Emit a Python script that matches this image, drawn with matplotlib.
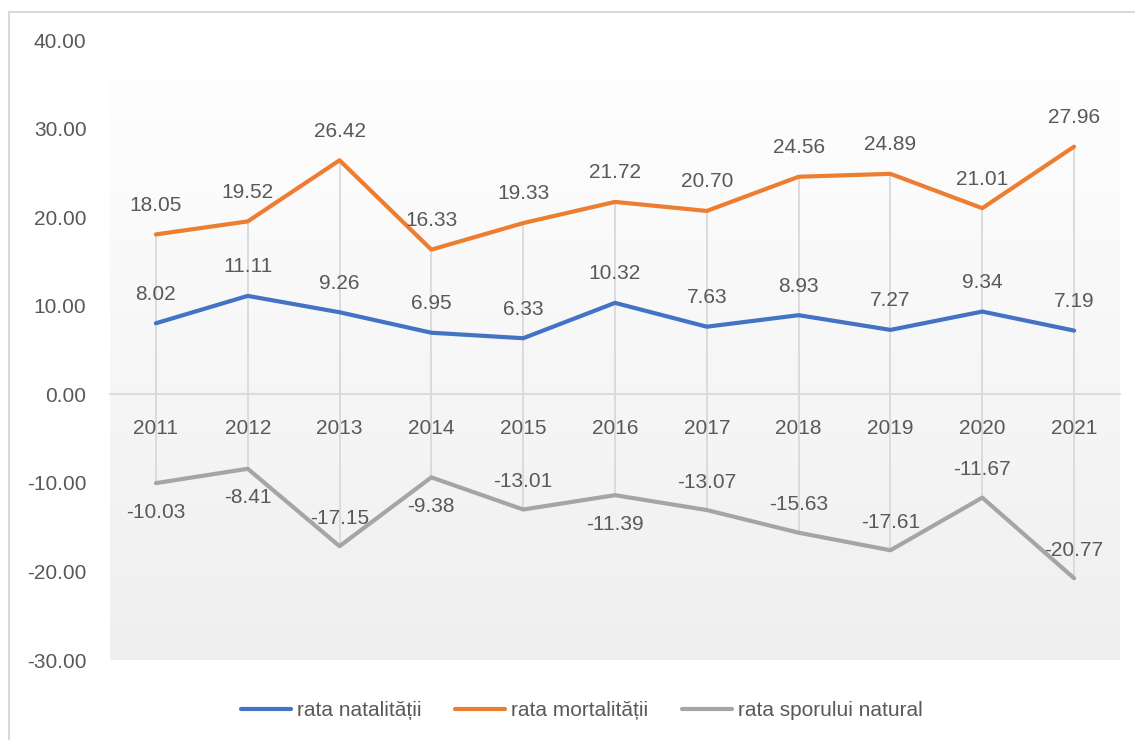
import matplotlib
matplotlib.use("Agg")
import matplotlib.pyplot as plt
import numpy as np
from matplotlib.colors import LinearSegmentedColormap
from matplotlib.lines import Line2D

years = ["2011", "2012", "2013", "2014", "2015", "2016", "2017", "2018", "2019", "2020", "2021"]
natalitate = [8.02, 11.11, 9.26, 6.95, 6.33, 10.32, 7.63, 8.93, 7.27, 9.34, 7.19]
mortalitate = [18.05, 19.52, 26.42, 16.33, 19.33, 21.72, 20.70, 24.56, 24.89, 21.01, 27.96]
spor = [-10.03, -8.41, -17.15, -9.38, -13.01, -11.39, -13.07, -15.63, -17.61, -11.67, -20.77]
series_names = ["rata natalității", "rata mortalității", "rata sporului natural"]
yticks = [-30, -20, -10, 0, 10, 20, 30, 40]
# label placement for grey series: 1 = above, -1 = below
spor_label_side = [-1, -1, 1, -1, 1, -1, 1, 1, 1, 1, 1]

plt.rcParams['font.family'] = ['Liberation Sans', 'DejaVu Sans']
txt_color = "#595959"
colors = ["#4472C4", "#ED7D31", "#A5A5A5"]

W, H = 1135, 740
fig = plt.figure(figsize=(W / 100, H / 100), dpi=100)
# outer chart border (top and left visible)
fig.add_artist(Line2D([9 / W, 9 / W], [0, 1 - 12 / H], color="#d9d9d9", lw=1.5, transform=fig.transFigure))
fig.add_artist(Line2D([9 / W, 1], [1 - 12 / H, 1 - 12 / H], color="#d9d9d9", lw=1.5, transform=fig.transFigure))

ax = fig.add_axes([110 / W, 80 / H, 1010 / W, 620 / H])
x = np.arange(len(years))
n = len(years)

# gradient background: white at top to light grey at bottom
cmap = LinearSegmentedColormap.from_list("bg", ["#ffffff", "#efefef"])
grad = np.linspace(1, 0, 256).reshape(-1, 1)
ax.imshow(grad, extent=[-0.5, n - 0.5, -30, 40], cmap=cmap, vmin=0, vmax=1,
          aspect="auto", zorder=0, origin="lower", interpolation="bilinear")
ax.set_xlim(-0.5, n - 0.5)
ax.set_ylim(-30, 40)

# high-low lines
data = np.array([natalitate, mortalitate, spor])
ax.vlines(x, data.min(axis=0), data.max(axis=0), color="#d9d9d9", lw=1.3, zorder=1)

for vals, c in zip([natalitate, mortalitate, spor], colors):
    ax.plot(x, vals, color=c, lw=3, solid_capstyle="round", solid_joinstyle="round", zorder=3)

fs = 15
for xi, v in zip(x, natalitate):
    ax.annotate(f"{v:.2f}", (xi, v), xytext=(0, 21), textcoords="offset points",
                ha="center", va="center", fontsize=fs, color=txt_color, zorder=4)
for xi, v in zip(x, mortalitate):
    ax.annotate(f"{v:.2f}", (xi, v), xytext=(0, 21), textcoords="offset points",
                ha="center", va="center", fontsize=fs, color=txt_color, zorder=4)
for xi, v, s in zip(x, spor, spor_label_side):
    off = 20 if s > 0 else -21
    ax.annotate(f"{v:.2f}", (xi, v), xytext=(0, off), textcoords="offset points",
                ha="center", va="center", fontsize=fs, color=txt_color, zorder=4)

# axes styling
for sp in ["top", "right", "left"]:
    ax.spines[sp].set_visible(False)
ax.spines["bottom"].set_position(("data", 0))
ax.spines["bottom"].set_color("#d9d9d9")
ax.spines["bottom"].set_linewidth(1.3)
ax.spines["bottom"].set_zorder(1)
ax.set_xticks(x)
ax.set_xticklabels(years)
ax.set_yticks(yticks)
ax.set_yticklabels([f"{t:.2f}" for t in yticks])
ax.tick_params(axis="x", length=0, pad=18, labelsize=fs, labelcolor=txt_color)
ax.tick_params(axis="y", length=0, pad=17, labelsize=fs, labelcolor=txt_color)

handles = [Line2D([], [], color=c, lw=3, solid_capstyle="round") for c in colors]
fig.legend(handles, series_names, loc="center", bbox_to_anchor=(582 / W, 1 - 711 / H),
           ncol=3, frameon=False, handlelength=2.4, handletextpad=0.3, columnspacing=1.6,
           prop={"size": 15}, labelcolor=txt_color)

fig.savefig("out.png", dpi=100)
